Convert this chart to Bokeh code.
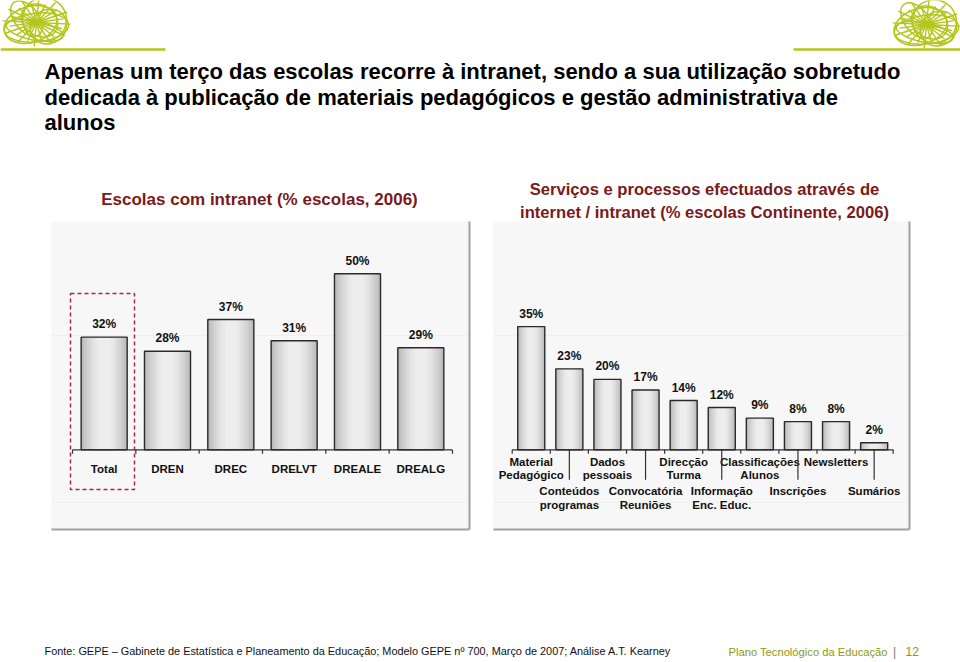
import math
from bokeh.plotting import figure
from bokeh.models import Range1d
from bokeh.core.properties import value
from bokeh.embed import file_html
from bokeh.resources import INLINE

# ---------------- data ----------------
title_lines = [
    "Apenas um terço das escolas recorre à intranet, sendo a sua utilização sobretudo",
    "dedicada à publicação de materiais pedagógicos e gestão administrativa de",
    "alunos",
]
left_title = "Escolas com intranet (% escolas, 2006)"
right_title = ["Serviços e processos efectuados através de",
               "internet / intranet (% escolas Continente, 2006)"]

left_categories = ["Total", "DREN", "DREC", "DRELVT", "DREALE", "DREALG"]
left_values = [32, 28, 37, 31, 50, 29]

right_categories = ["Material\nPedagógico", "Conteúdos\nprogramas", "Dados\npessoais",
                    "Convocatória\nReuniões", "Direcção\nTurma", "Informação\nEnc. Educ.",
                    "Classificações\nAlunos", "Inscrições", "Newsletters", "Sumários"]
right_values = [35, 23, 20, 17, 14, 12, 9, 8, 8, 2]

source_text = ("Fonte: GEPE \u2013 Gabinete de Estatística e Planeamento da Educação; "
               "Modelo GEPE nº 700, Março de 2007; Análise A.T. Kearney")
brand_text = "Plano Tecnológico da Educação"
page_number = "12"

# ---------------- layout ----------------
W, H = 960, 662
M = 0  # observed: figure drawn at the page origin

def X(x):
    return x - M

def Y(y):
    return y - M

FONT = value("Liberation Sans")
GREEN = "#b3c61c"
MAROON = "#7b1a1a"

p = figure(width=W, height=H, x_range=Range1d(0, W), y_range=Range1d(H, 0),
           output_backend="svg", toolbar_location=None, min_border=0,
           x_axis_location=None, y_axis_location=None)
p.grid.visible = False
p.outline_line_color = None
p.background_fill_color = "white"
p.border_fill_color = "white"

# scales of the two charts
PX_PER_PCT = 3.52
BASE_Y = Y(449.3)
L_X0, L_STEP = X(72.0), 63.33
R_X0, R_STEP = X(511.7), 38.1

p.extra_x_ranges = {
    "lx": Range1d(-L_X0 / L_STEP, (W - L_X0) / L_STEP),
    "rx": Range1d(-R_X0 / R_STEP, (W - R_X0) / R_STEP),
}
p.extra_y_ranges = {"v": Range1d((BASE_Y - H) / PX_PER_PCT, BASE_Y / PX_PER_PCT)}

# ---------------- logos ----------------
def logo(cx, cy, rx, ry):
    xs0, ys0, xs1, ys1 = [], [], [], []
    for k in range(24):
        a = math.radians(k * 15 + 4)
        f = 1.0 if k % 2 == 0 else 0.8
        xs0.append(cx); ys0.append(cy)
        xs1.append(cx + rx * f * math.cos(a)); ys1.append(cy + ry * f * math.sin(a))
    p.segment(xs0, ys0, xs1, ys1, line_color=GREEN, line_width=1.4)
    ex = [cx - 6, cx + 8, cx, cx + 3, cx - 10, cx + 12, cx - 2]
    ey = [cy + 2, cy - 3, cy + 5, cy - 2, cy - 4, cy + 4, cy + 8]
    ew = [rx * 1.6, rx * 1.3, rx * 1.9, rx * 0.9, rx * 1.2, rx * 1.1, rx * 1.7]
    eh = [ry * 1.5, ry * 1.8, ry * 1.2, ry * 1.6, ry * 1.0, ry * 1.4, ry * 0.8]
    ea = [0.3, -0.5, 0.1, 1.0, -0.9, 0.6, -0.2]
    p.ellipse(ex, ey, width=ew, height=eh, angle=ea, fill_alpha=0,
              line_color=GREEN, line_width=1.5)

logo(X(36), Y(22), 34, 24)
logo(X(926), Y(24), 34, 24)
p.segment([X(0), X(793)], [Y(49), Y(49)], [X(165), X(960)], [Y(49), Y(49)],
          line_color=GREEN, line_width=2.5)

# ---------------- titles ----------------
p.text(x=[X(44)] * 3, y=[Y(71), Y(97), Y(122)], text=title_lines,
       text_font=FONT, text_font_size="22px", text_font_style="bold",
       text_color="black", text_baseline="middle", text_align="left")
p.text(x=[X(259)], y=[Y(199)], text=[left_title], text_font=FONT,
       text_font_size="17px", text_font_style="bold", text_color=MAROON,
       text_baseline="middle", text_align="center")
p.text(x=[X(704)] * 2, y=[Y(189), Y(212)], text=right_title, text_font=FONT,
       text_font_size="16.6px", text_font_style="bold", text_color=MAROON,
       text_baseline="middle", text_align="center")

# ---------------- panels ----------------
panels_l = [X(51), X(493)]
panels_r = [X(469), X(909)]
p.quad(left=panels_l, right=panels_r, top=[Y(221)] * 2, bottom=[Y(529)] * 2,
       fill_color="#f7f7f7", line_color=None)
p.segment(panels_l, [Y(335)] * 2, panels_r, [Y(335)] * 2, line_color="#efefef", line_width=1)
p.segment(panels_l, [Y(502)] * 2, panels_r, [Y(502)] * 2, line_color="#efefef", line_width=1)
p.segment(panels_r, [Y(221)] * 2, panels_r, [Y(529)] * 2, line_color="#a0a0a0", line_width=2)
p.segment(panels_l, [Y(529)] * 2, panels_r, [Y(529)] * 2, line_color="#a0a0a0", line_width=2)

# ---------------- bars ----------------
GRAD = [(1.00, "#bdbdbd"), (0.88, "#c8c8c8"), (0.76, "#d2d2d2"), (0.64, "#dadada"),
        (0.52, "#e2e2e2"), (0.40, "#e8e8e8"), (0.26, "#ededed")]

def bars(vals, rname, wfrac):
    xs = [i + 0.5 for i in range(len(vals))]
    for f, c in GRAD:
        p.vbar(x=xs, top=vals, bottom=0, width=wfrac * f, fill_color=c, line_color=None,
               x_range_name=rname, y_range_name="v")
    p.vbar(x=xs, top=vals, bottom=0, width=wfrac, fill_alpha=0, line_color="#2a2a2a",
           line_width=1.4, x_range_name=rname, y_range_name="v")
    p.text(x=xs, y=vals, text=[f"{v}%" for v in vals], x_range_name=rname, y_range_name="v",
           y_offset=-13, text_font=FONT, text_font_size="12px", text_font_style="bold",
           text_color="#111111", text_align="center", text_baseline="middle")
    n = len(vals)
    tick_len = 4 / PX_PER_PCT
    p.segment([0], [0], [n], [0], x_range_name=rname, y_range_name="v",
              line_color="#333333", line_width=1.2)
    p.segment(list(range(n + 1)), [0] * (n + 1), list(range(n + 1)), [-tick_len] * (n + 1),
              x_range_name=rname, y_range_name="v", line_color="#333333", line_width=1.2)
    return xs

lxs = bars(left_values, "lx", 0.727)
rxs = bars(right_values, "rx", 0.71)

# left category labels
p.text(x=lxs, y=[0] * len(lxs), text=left_categories, x_range_name="lx", y_range_name="v",
       y_offset=18.7, text_font=FONT, text_font_size="11.5px", text_font_style="bold",
       text_color="#111111", text_align="center", text_baseline="middle")

# right category labels (staggered, two lines)
line1 = [c.split("\n")[0] for c in right_categories]
line2 = [(c.split("\n") + [""])[1] for c in right_categories]
even = [i for i in range(len(right_categories)) if i % 2 == 0]
odd = [i for i in range(len(right_categories)) if i % 2 == 1]
for idx, off in ((even, 11.7), (odd, 41.4)):
    p.text(x=[rxs[i] for i in idx], y=[0] * len(idx), text=[line1[i] for i in idx],
           x_range_name="rx", y_range_name="v", y_offset=off, text_font=FONT,
           text_font_size="11.5px", text_font_style="bold", text_color="#111111",
           text_align="center", text_baseline="middle")
    p.text(x=[rxs[i] for i in idx], y=[0] * len(idx), text=[line2[i] for i in idx],
           x_range_name="rx", y_range_name="v", y_offset=off + 13.3, text_font=FONT,
           text_font_size="11.5px", text_font_style="bold", text_color="#111111",
           text_align="center", text_baseline="middle")
leader = 30 / PX_PER_PCT
p.segment([rxs[i] for i in odd], [0] * len(odd), [rxs[i] for i in odd], [-leader] * len(odd),
          x_range_name="rx", y_range_name="v", line_color="#333333", line_width=1.2)

# highlight box around "Total"
p.quad(left=[X(70)], right=[X(134)], top=[Y(293)], bottom=[Y(489)], fill_alpha=0,
       line_color="#9e2a55", line_width=1.5, line_dash="4 3")

# ---------------- footer ----------------
p.text(x=[X(44)], y=[Y(650)], text=[source_text], text_font=FONT, text_font_size="10.9px",
       text_color="#111111", text_baseline="middle", text_align="left")
p.text(x=[X(728)], y=[Y(651)], text=[brand_text], text_font=FONT, text_font_size="11.2px",
       text_color="#8a9a12", text_baseline="middle", text_align="left")
p.text(x=[X(894)], y=[Y(651)], text=["|"], text_font=FONT, text_font_size="12px",
       text_color="#777777", text_baseline="middle", text_align="center")
p.text(x=[X(905)], y=[Y(651)], text=[page_number], text_font=FONT, text_font_size="12px",
       text_color="#8a9a12", text_baseline="middle", text_align="left")

open("out.html", "w").write(file_html(p, INLINE))
